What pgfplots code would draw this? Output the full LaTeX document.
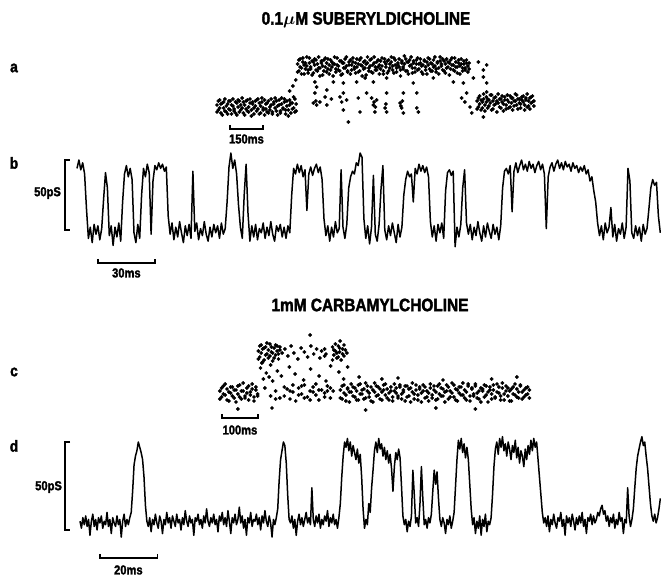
\documentclass[border=0pt]{standalone}
\usepackage{pgfplots}
\usepackage{pgfplotstable}
\pgfplotsset{compat=1.18}
\usepackage{fontspec}
\newfontfamily\cond{Liberation Sans}[FakeStretch=0.86, BoldFeatures={FakeBold=2}]

\pgfplotsset{
  panel/.style={hide axis, scale only axis, clip=false, anchor=south west},
  trace/.style={black, line width=1.5bp, no markers, line join=round},
  dots/.style={only marks, mark=*, mark size=1.7bp, mark options={draw=none, fill=black}},
}
\tikzset{
  bar/.style={line width=1.2bp, black},
  lab/.style={font=\cond\bfseries\fontsize{13}{15}\selectfont, inner sep=0pt},
  ttl/.style={font=\cond\bfseries\boldmath\fontsize{18}{21}\selectfont, inner sep=0pt},
  let/.style={font=\cond\bfseries\fontsize{16}{18}\selectfont, inner sep=0pt},
}

% panel a: slow sweep, 0.1 uM suberyldicholine (time ms, conductance pS)
\pgfplotstableread{
t a b
0 2 -5
6 -3 6
12 7 -1
18 -6 3
24 4 -8
30 -1 5
36 8 -4
42 -5 1
48 3 -7
54 -2 6
60 6 -3
66 -7 2
72 1 8
78 -4 -2
84 5 -6
90 -8 4
96 0 7
102 6 -5
108 -3 2
114 9 -1
120 -6 5
126 2 -8
132 -2 6
138 7 -4
144 -5 0
150 4 8
156 -9 -3
162 3 5
168 -1 -7
174 6 1
180 -4 7
186 8 -2
192 -7 4
198 1 -6
204 5 9
210 -3 -1
216 7 -8
222 -2 3
228 4 -5
234 -6 6
240 0 -3
246 8 2
252 -5 -7
258 3 5
264 -1 9
270 6 -4
276 -8 1
282 2 7
288 -4 -6
294 9 3
300 -2 -1
306 5 8
312 -7 -3
318 1 6
324 -3 -9
330 7 2
336 -6 4
342 4 -2
348 -1 10
354 8 -5
360 -4 3
}\aClosedL
\pgfplotstableread{
t a b
366 43 35
372 36 47
378 48 40
384 39 33
390 45 49
396 33 42
402 44 38
408 41 50
414 37 34
420 49 44
426 38 40
432 46 32
438 34 45
444 42 48
450 47 37
456 36 43
462 50 39
468 39 31
474 44 46
480 32 41
486 47 36
492 40 49
498 35 44
504 48 38
510 42 33
516 37 47
522 45 40
528 31 43
534 43 50
540 38 35
546 49 42
552 41 37
558 36 46
564 46 32
570 33 44
576 44 39
582 39 48
588 50 41
594 35 36
600 42 45
606 47 33
612 37 42
618 45 49
624 40 38
630 34 44
636 48 40
642 43 35
648 36 47
654 49 42
660 41 31
666 38 45
672 46 39
678 32 43
684 44 50
690 39 36
696 47 41
702 35 48
708 42 34
714 50 44
720 37 40
726 45 37
732 40 47
738 33 42
744 46 38
750 41 49
756 36 33
762 48 45
768 43 40
774 34 46
780 47 36
786 39 43
792 45 50
798 37 41
804 49 34
810 42 47
816 35 39
822 44 42
828 40 48
834 31 37
840 46 44
846 38 40
852 43 51
858 48 36
864 36 45
870 45 33
876 41 47
882 50 42
888 34 39
894 44 46
900 39 35
906 47 43
912 37 49
918 43 38
924 48 44
930 35 41
936 42 33
942 46 47
948 40 37
954 33 45
960 49 42
966 38 48
972 44 36
978 36 43
984 47 40
990 41 50
996 35 38
1002 45 44
1008 39 33
1014 50 46
1020 43 41
1026 37 48
1032 46 36
1038 34 43
1044 48 39
1050 40 45
1056 44 32
1062 38 47
1068 49 42
1074 42 37
1080 36 49
1086 45 40
1092 40 34
1098 47 44
1104 33 41
1110 43 48
1116 39 36
1122 46 43
1128 37 39
1134 44 47
1140 41 35
1146 38 44
}\aOpen
\pgfplotstableread{
t a b
1182 6 -2
1188 0 9
1194 11 3
1200 -3 7
1206 5 -1
1212 8 13
1218 2 -4
1224 10 5
1230 -1 8
1236 7 1
1242 4 12
1248 12 -3
1254 -2 6
1260 9 2
1266 3 10
1272 6 -5
1278 13 4
1284 0 8
1290 8 -1
1296 5 11
1302 -4 3
1308 10 7
1314 2 -2
1320 7 12
1326 -1 5
1332 11 0
1338 4 9
1344 9 -3
1350 1 6
1356 6 13
1362 12 2
1368 -2 8
1374 8 4
1380 3 -1
1386 10 7
1392 5 11
1398 -3 2
1404 7 9
1410 13 0
1416 1 6
1422 9 -2
1428 4 10
1434 11 5
1440 6 1
}\aClosedR

% panel c: slow sweep, 1 mM carbamylcholine
\pgfplotstableread{
t a b
5 2 -6
10 -4 5
15 7 -1
20 -2 9
25 4 -7
30 -8 1
35 0 6
40 6 -3
45 -5 3
50 3 -9
55 -1 7
60 8 -4
65 -6 2
70 2 10
75 -3 -5
80 5 0
85 -7 7
90 1 -2
95 9 4
100 -4 -8
105 3 6
110 -1 -3
130 5 nan
146 -3 nan
160 2 -6
172 -5 nan
184 -3 6
192 4 nan
200 -6 2
208 1 8
216 -8 nan
224 5 -2
232 -1 7
240 8 -5
248 -4 nan
256 2 -7
264 6 1
272 -2 9
280 -7 3
288 3 nan
296 0 -4
304 7 2
312 -5 5
320 2 nan
340 3 -5
345 -6 7
350 8 0
355 -2 -8
360 5 4
365 -9 1
370 1 9
375 6 -3
380 -4 5
385 2 -7
390 -7 8
395 9 -1
400 -1 3
405 4 -6
410 -5 10
415 7 2
420 0 -4
425 -8 6
430 3 -9
435 10 1
440 -3 7
445 6 -2
450 -6 4
455 1 -7
460 8 3
465 -2 9
470 4 -5
475 -7 0
480 2 6
485 -4 -8
490 9 2
495 0 5
500 -5 -3
505 6 8
510 -1 -6
515 3 1
520 -8 7
525 7 -4
530 -3 4
535 5 -9
540 1 10
545 -6 -1
550 8 3
555 -2 -7
560 4 6
565 -9 0
570 2 8
575 6 -5
580 -4 2
585 0 -8
590 9 5
595 -5 -2
600 3 7
605 -7 1
610 7 -6
615 -1 9
620 5 -3
625 -3 4
630 1 -9
635 8 2
640 -6 6
645 2 -4
650 10 0
655 -4 8
660 4 -7
665 -8 3
670 0 6
675 6 -2
680 -2 10
685 3 -5
690 -7 1
695 9 7
700 -3 -8
705 5 4
710 -1 -3
715 7 9
720 -5 0
725 2 -6
730 -9 5
735 4 2
740 8 -4
745 -2 7
750 1 -9
755 6 3
760 -6 -1
765 3 8
770 -4 -5
775 9 1
780 0 6
785 -7 -3
790 5 10
795 -1 -7
800 7 2
805 -3 5
810 2 -8
815 -8 4
820 6 -1
825 -2 9
830 4 -4
835 -5 1
840 8 7
845 1 -6
850 -4 3
855 5 -2
860 -1 6
865 3 -5
}\cClosed
\pgfplotstableread{
t a b
112 42 34
116 36 47
120 48 40
124 44 31
128 33 45
132 46 38
136 39 50
140 35 43
144 49 37
148 41 46
152 32 40
156 45 35
160 38 48
164 47 42
168 34 39
172 43 46
296 44 37
300 39 nan
318 46 33
322 38 43
326 42 49
330 35 40
334 47 36
338 41 45
342 33 nan
346 44 39
350 37 48
354 43 nan
358 40 nan
}\cOpen

\begin{document}
\begin{tikzpicture}

% ---------- titles and panel letters ----------
\node[ttl] at (366bp,560bp) {0.1$\mu$M SUBERYLDICHOLINE};
\node[ttl] at (370bp,275bp) {1mM CARBAMYLCHOLINE};
\node[let] at (14bp,512bp) {a};
\node[let] at (14bp,417bp) {b};
\node[let] at (14bp,208bp) {c};
\node[let] at (14bp,134bp) {d};

% ---------- a ----------
\begin{axis}[panel, at={(217bp,453bp)}, xmin=0, xmax=1450, ymin=-20, ymax=60, x=0.22bp, y=1bp]
  \addplot[dots] table[x=t,y=a]{\aClosedL};
  \addplot[dots] table[x=t,y=b]{\aClosedL};
  \addplot[dots] table[x=t,y=a]{\aOpen};
  \addplot[dots] table[x=t,y=b]{\aOpen};
  \addplot[dots] table[x=t,y=a]{\aClosedR};
  \addplot[dots] table[x=t,y=b]{\aClosedR};
  \addplot[dots] coordinates {(330,16)(345,21)(358,27)(445,25)(453,20)(529,25)(574,24)(635,25)(673,29)(711,25)(771,29)(892,24)(908,14)(983,29)(1074,25)(1120,24)(1165,29)(1188,45)(1211,37)(1226,42)(1211,30)(1226,24)
    (438,4)(453,2)(468,5)(491,10)(499,2)(559,10)(567,5)(574,-3)(589,7)(642,9)(650,-5)(703,9)(711,2)(718,-5)(726,7)(764,-1)(771,-5)(832,4)(839,-1)(847,-6)(908,-1)(915,-5)(597,-15)
    (445,14)(499,17)(680,14)(771,14)(574,14)(847,14)(1112,9)(1127,5)(1135,14)(1150,0)(1158,-6)(1211,-10)(1226,15)(714,5)(720,0)(768,3)(836,1)(843,6)(520,8)(449,6)};
  \draw[bar] (59,-18) -- (59,-22) -- (209,-22) -- (209,-18);
  \node[lab] at (134,-32) {150ms};
\end{axis}

% ---------- b ----------
\begin{axis}[panel, at={(77bp,322bp)}, xmin=0, xmax=307, ymin=-20, ymax=60, x=1.9bp, y=1.4bp]
  \addplot[trace] coordinates {
  (0,44)(1,50)(2,43)(3,48)(4,40)(5,15)(6,-6)(7,2)(8,-9)(9,4)(10,-3)(11,3)(12,-7)(13,1)(14,22)(15,41)(16,30)(17,-4)(18,3)(19,-11)
  (20,2)(21,-5)(22,5)(23,-8)(24,20)(25,40)(26,46)(27,38)(28,44)(29,36)(30,-2)(31,-9)(32,4)(33,-6)(34,25)(35,44)(36,38)(37,47)(38,41)(39,-3)
  (40,35)(41,46)(42,43)(43,48)(44,44)(45,47)(46,42)(47,45)(48,10)(49,-3)(50,5)(51,-7)(52,2)(53,-5)(54,6)(55,-2)(56,-9)(57,3)(58,-4)(59,4)
  (60,-6)(61,42)(62,-1)(63,5)(64,-7)(65,1)(66,-4)(67,6)(68,-3)(69,-8)(70,2)(71,-5)(72,4)(73,-2)(74,3)(75,-6)(76,5)(77,-3)(78,1)(79,20)
  (80,45)(81,55)(82,44)(83,50)(84,40)(85,18)(86,2)(87,-6)(88,25)(89,47)(90,12)(91,-8)(92,3)(93,-5)(94,4)(95,-7)(96,1)(97,-2)(98,5)(99,-6)
  (100,2)(101,-4)(102,6)(103,-3)(104,-8)(105,3)(106,-1)(107,4)(108,-5)(109,2)(110,-6)(111,3)(112,-2)(113,25)(114,44)(115,40)(116,47)(117,41)(118,46)(119,38)
  (120,43)(121,14)(122,40)(123,45)(124,39)(125,44)(126,47)(127,41)(128,45)(129,36)(130,8)(131,-4)(132,3)(133,-8)(134,2)(135,-5)(136,6)(137,-2)(138,1)(139,43)
  (140,2)(141,-6)(142,4)(143,30)(144,38)(145,42)(146,40)(147,48)(148,46)(149,55)(150,52)(151,8)(152,-6)(153,3)(154,-10)(155,2)(156,39)(157,-3)(158,-8)(159,4)
  (160,29)(161,46)(162,0)(163,-7)(164,3)(165,-4)(166,5)(167,-2)(168,-9)(169,4)(170,-5)(171,2)(172,25)(173,36)(174,42)(175,38)(176,40)(177,20)(178,44)(179,40)
  (180,47)(181,42)(182,46)(183,41)(184,45)(185,38)(186,6)(187,-5)(188,3)(189,-8)(190,4)(191,-2)(192,5)(193,-6)(194,28)(195,41)(196,43)(197,39)(198,42)(199,-12)
  (200,2)(201,-5)(202,4)(203,30)(204,43)(205,5)(206,-3)(207,4)(208,-7)(209,2)(210,-4)(211,6)(212,-2)(213,-8)(214,3)(215,-5)(216,5)(217,-1)(218,-6)(219,4)
  (220,-3)(221,2)(222,-7)(223,3)(224,30)(225,42)(226,44)(227,40)(228,46)(229,13)(230,42)(231,48)(232,41)(233,46)(234,50)(235,43)(236,47)(237,42)(238,49)(239,44)
  (240,47)(241,41)(242,46)(243,49)(244,43)(245,47)(246,40)(247,1)(248,38)(249,45)(250,48)(251,42)(252,47)(253,50)(254,44)(255,48)(256,43)(257,49)(258,45)(259,47)
  (260,42)(261,48)(262,44)(263,46)(264,41)(265,45)(266,42)(267,46)(268,40)(269,43)(270,35)(271,38)(272,28)(273,20)(274,5)(275,-4)(276,3)(277,-7)(278,5)(279,-2)
  (280,2)(281,16)(282,-5)(283,4)(284,-8)(285,1)(286,-3)(287,5)(288,-6)(289,2)(290,44)(291,35)(292,-2)(293,-6)(294,3)(295,-4)(296,2)(297,-8)(298,4)(299,-3)
  (300,1)(301,15)(302,30)(303,36)(304,32)(305,34)(306,10)(307,-2)};
  \draw[bar] (-3.7,50) -- (-6.3,50) -- (-6.3,0) -- (-3.7,0);
  \node[lab, anchor=east] at (-8.4,26.4) {50pS};
  \draw[bar] (11,-20.7) -- (11,-23.6) -- (41,-23.6) -- (41,-20.7);
  \node[lab] at (26,-30.7) {30ms};
\end{axis}

% ---------- c ----------
\begin{axis}[panel, at={(218bp,167bp)}, xmin=0, xmax=872, ymin=-20, ymax=60, x=0.36bp, y=1bp]
  \addplot[dots] table[x=t,y=a]{\cClosed};
  \addplot[dots] table[x=t,y=b]{\cClosed};
  \addplot[dots] table[x=t,y=a]{\cOpen};
  \addplot[dots] table[x=t,y=b]{\cOpen};
  \addplot[dots] coordinates {(178,40)(186,44)(194,37)(203,47)(211,40)(222,34)(231,45)(240,41)(249,36)(258,47)(266,39)(274,44)(283,35)(288,42)
    (118,25)(126,14)(134,20)(146,28)(152,12)(165,22)(176,17)(198,26)(214,19)(238,13)(257,24)(281,17)(300,12)(313,27)(336,21)(349,14)(360,26)(122,30)(142,16)
    (55,-16)(150,-15)(410,-17)(605,-15)(715,-16)(500,15)(625,13)(760,14)(830,16)(392,16)(455,14)(256,58)(339,52)};
  \draw[bar] (11,-21) -- (11,-25) -- (111,-25) -- (111,-21);
  \node[lab] at (61,-37) {100ms};
\end{axis}

% ---------- d ----------
\begin{axis}[panel, at={(80bp,32.4bp)}, xmin=0, xmax=204, ymin=-10, ymax=60, x=2.845bp, y=1.76bp]
  \addplot[trace] coordinates {
  (0,5)(0.5,1)(1,7)(1.5,3)(2,8)(2.5,2)(3,6)(3.5,-3)(4,5)(4.5,9)(5,2)(5.5,6)(6,0)(6.5,7)(7,4)(7.5,8)(8,1)(8.5,5)(9,3)(9.5,10)(10,2)(10.5,6)(11,-2)(11.5,7)(12,4)(12.5,2)(13,8)(13.5,3)(14,6)(14.5,-4)(15,5)(15.5,9)(16,2)(16.5,6)(17,3)(17.5,7)
  (18,10)(18.5,22)(19,37)(19.5,42)(20,45)(20.5,50)(21,47)(21.5,44)(22,40)(22.5,30)(23,14)(23.5,5)
  (24,2)(24.5,7)(25,-1)(25.5,6)(26,3)(26.5,9)(27,4)(27.5,1)(28,8)(28.5,5)(29,-2)(29.5,6)(30,3)(30.5,10)(31,4)(31.5,7)(32,1)(32.5,8)(33,5)(33.5,2)(34,9)(34.5,4)(35,6)(35.5,0)(36,7)(36.5,3)(37,11)(37.5,5)(38,2)(38.5,8)(39,4)(39.5,6)
  (40,-3)(40.5,7)(41,5)(41.5,9)(42,3)(42.5,6)(43,1)(43.5,8)(44,4)(44.5,12)(45,5)(45.5,2)(46,7)(46.5,4)(47,9)(47.5,3)(48,6)(48.5,-1)(49,8)(49.5,5)(50,10)(50.5,3)(51,7)(51.5,2)(52,11)(52.5,5)(53,-2)(53.5,7)(54,4)(54.5,9)
  (55,3)(55.5,6)(56,13)(56.5,4)(57,8)(57.5,1)(58,6)(58.5,-3)(59,7)(59.5,4)(60,10)(60.5,2)(61,6)(61.5,5)(62,9)(62.5,3)(63,7)(63.5,0)(64,8)(64.5,4)(65,11)(65.5,5)(66,2)(66.5,8)(67,4)(67.5,-4)(68,6)(68.5,3)(69,7)
  (69.5,12)(70,28)(70.5,40)(71,45)(71.5,50)(72,48)(72.5,38)(73,20)(73.5,6)
  (74,4)(74.5,8)(75,1)(75.5,6)(76,-3)(76.5,5)(77,9)(77.5,3)(78,7)(78.5,2)(79,6)(79.5,10)(80,4)(80.5,7)(81,3)(81.5,24)(82,6)(82.5,2)(83,8)(83.5,4)(84,9)(84.5,1)(85,6)(85.5,3)(86,8)(86.5,5)(87,11)(87.5,2)(88,7)(88.5,4)(89,9)(89.5,3)(90,6)(90.5,1)(91,7)
  (91.5,15)(92,30)(92.5,42)(93,50)(93.5,47)(94,52)(94.5,45)(95,50)(95.5,42)(96,48)(96.5,44)(97,40)(97.5,46)(98,38)(98.5,43)(99,30)(99.5,12)
  (100,1)(100.5,6)(101,3)(101.5,15)(102,10)(102.5,24)(103,34)(103.5,45)
  (104,50)(104.5,44)(105,52)(105.5,46)(106,49)(106.5,42)(107,47)(107.5,40)(108,45)(108.5,38)(109,43)(109.5,35)(110,22)(110.5,36)(111,44)(111.5,40)(112,46)(112.5,41)
  (113,25)(113.5,8)(114,3)(114.5,6)(115,-1)(115.5,5)(116,2)(116.5,8)
  (117,34)(117.5,20)(118,4)(118.5,7)(119,2)(119.5,15)(120,36)(120.5,18)(121,3)(121.5,6)(122,1)(122.5,7)(123,4)(123.5,9)(124,22)(124.5,34)(125,26)(125.5,33)(126,18)(126.5,6)
  (127,2)(127.5,7)(128,4)(128.5,-2)(129,6)(129.5,3)(130,8)(130.5,1)(131,5)(131.5,10)
  (132,25)(132.5,40)(133,51)(133.5,46)(134,52)(134.5,44)(135,49)(135.5,41)(136,47)(136.5,40)(137,26)(137.5,12)(138,3)
  (138.5,7)(139,-2)(139.5,5)(140,1)(140.5,8)(141,-3)(141.5,6)(142,2)(142.5,9)(143,-1)(143.5,5)(144,3)(144.5,7)
  (145,20)(145.5,36)(146,46)
  (146.5,50)(147,43)(147.5,52)(148,47)(148.5,53)(149,45)(149.5,49)(150,42)(150.5,50)(151,46)(151.5,40)(152,48)(152.5,44)(153,51)(153.5,41)(154,47)(154.5,38)(155,45)(155.5,42)(156,36)(156.5,46)(157,40)(157.5,48)(158,43)(158.5,51)(159,45)(159.5,52)(160,47)(160.5,50)
  (161,40)(161.5,30)(162,20)(162.5,10)(163,4)
  (163.5,7)(164,2)(164.5,8)(165,-1)(165.5,6)(166,3)(166.5,9)(167,4)(167.5,1)(168,7)(168.5,5)(169,10)(169.5,2)(170,6)(170.5,-3)(171,8)(171.5,4)(172,7)(172.5,2)(173,9)(173.5,5)(174,0)(174.5,7)(175,3)(175.5,8)(176,4)(176.5,10)(177,2)(177.5,6)(178,-2)
  (178.5,7)(179,5)(179.5,9)(180,3)(180.5,8)(181,4)(181.5,6)(182,10)(182.5,8)(183,12)(183.5,14)(184,9)(184.5,11)(185,5)(185.5,8)(186,2)(186.5,7)(187,4)(187.5,9)(188,1)(188.5,6)(189,3)(189.5,10)(190,5)(190.5,7)(191,-2)(191.5,6)(192,4)(192.5,24)(193,8)(193.5,2)(194,6)
  (194.5,12)(195,24)(195.5,35)(196,42)(196.5,46)(197,50)(197.5,53)(198,48)(198.5,50)(199,42)(199.5,35)(200,25)(200.5,15)(201,8)(201.5,5)(202,9)(202.5,4)(203,7)(203.5,12)(204,18)};
  \draw[bar] (-3.5,50) -- (-5.3,50) -- (-5.3,0) -- (-3.5,0);
  \node[lab, anchor=east] at (-6.3,24.4) {50pS};
  \draw[bar] (7,-13.6) -- (7,-15.9) -- (27.1,-15.9) -- (27.1,-13.6);
  \node[lab] at (17,-22.7) {20ms};
\end{axis}

\pgfresetboundingbox
\useasboundingbox (0,0) rectangle (661bp,580bp);
\end{tikzpicture}
\end{document}
